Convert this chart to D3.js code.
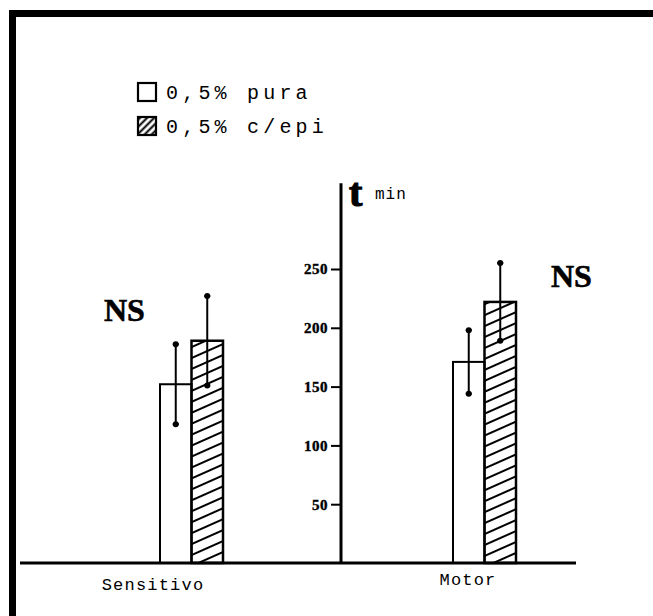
<!DOCTYPE html>
<html>
<head>
<meta charset="utf-8">
<script src="https://cdn.jsdelivr.net/npm/d3@7"></script>
<style>
  body { margin: 0; background: #fff; }
  svg { display: block; }
  .mono { font-family: "Liberation Mono", "DejaVu Sans Mono", monospace; }
  .serif { font-family: "Liberation Serif", "DejaVu Serif", serif; font-weight: bold; }
</style>
</head>
<body>
<svg id="canvas" width="653" height="616"></svg>
<script>
let categories = ["Sensitivo", "Motor"]
let series = ["0,5% pura", "0,5% c/epi"]
let puraValues = [152, 171]
let puraErr = [34, 27]
let epiValues = [189, 222]
let epiErr = [38, 33]
let tickValues = [50, 100, 150, 200, 250]

let svg = d3.select("#canvas")

// pattern for the hatched bars
let defs = svg.append("defs")
defs.append("pattern")
    .attr("id", "hatchBar")
    .attr("patternUnits", "userSpaceOnUse")
    .attr("width", 10).attr("height", 10)
    .attr("patternTransform", "rotate(-24)")
    .append("line")
    .attr("x1", 0).attr("y1", 5).attr("x2", 10).attr("y2", 5)
    .attr("stroke", "#000").attr("stroke-width", 2)
defs.append("pattern")
    .attr("id", "hatchLegend")
    .attr("patternUnits", "userSpaceOnUse")
    .attr("width", 5).attr("height", 5)
    .attr("patternTransform", "rotate(-45)")
    .append("line")
    .attr("x1", 0).attr("y1", 2.5).attr("x2", 5).attr("y2", 2.5)
    .attr("stroke", "#000").attr("stroke-width", 2)

// frame (left and top edge of the scanned page)
svg.append("rect").attr("x", 9).attr("y", 10).attr("width", 7).attr("height", 606).attr("fill", "#000")
svg.append("rect").attr("x", 9).attr("y", 10).attr("width", 644).attr("height", 7).attr("fill", "#000")

let y = d3.scaleLinear().domain([0, 250]).range([563, 269])
let x = d3.scalePoint().domain(categories).range([191.5, 484.5])
let barW = 31.5

// legend
let legend = svg.append("g").attr("transform", "translate(137, 82)")
series.forEach((s, i) => {
    legend.append("rect")
        .attr("x", 1).attr("y", i * 34 + 1)
        .attr("width", 18).attr("height", 18)
        .attr("fill", i === 0 ? "#fff" : "url(#hatchLegend)")
        .attr("stroke", "#000").attr("stroke-width", 2.2)
    legend.append("text")
        .attr("class", "mono")
        .attr("x", 29).attr("y", i * 34 + 17)
        .attr("font-size", 20)
        .attr("letter-spacing", 4.2)
        .text(s)
})

// bars
let groups = svg.selectAll(".group")
    .data(categories)
    .enter()
    .append("g")
    .attr("class", "group")

groups.append("rect")
    .attr("x", (d) => x(d) - barW)
    .attr("y", (d, i) => y(puraValues[i]))
    .attr("width", barW)
    .attr("height", (d, i) => y(0) - y(puraValues[i]))
    .attr("fill", "#fff").attr("stroke", "#000").attr("stroke-width", 2)

groups.append("rect")
    .attr("x", (d) => x(d))
    .attr("y", (d, i) => y(epiValues[i]))
    .attr("width", barW)
    .attr("height", (d, i) => y(0) - y(epiValues[i]))
    .attr("fill", "url(#hatchBar)").attr("stroke", "#000").attr("stroke-width", 2.5)

// error bars
let drawErr = (cx, v, e) => {
    let g = svg.append("g").attr("stroke", "#000").attr("stroke-width", 2)
    g.append("line").attr("x1", cx).attr("x2", cx).attr("y1", y(v + e)).attr("y2", y(v - e))
    g.append("line").attr("x1", cx - 3).attr("x2", cx + 3).attr("y1", y(v + e)).attr("y2", y(v + e))
    g.append("line").attr("x1", cx - 3).attr("x2", cx + 3).attr("y1", y(v - e)).attr("y2", y(v - e))
    g.append("circle").attr("cx", cx).attr("cy", y(v + e)).attr("r", 2).attr("fill", "#000")
    g.append("circle").attr("cx", cx).attr("cy", y(v - e)).attr("r", 2).attr("fill", "#000")
}
categories.forEach((c, i) => {
    drawErr(x(c) - barW / 2, puraValues[i], puraErr[i])
    drawErr(x(c) + barW / 2, epiValues[i], epiErr[i])
})

// baseline
svg.append("line")
    .attr("x1", 20).attr("x2", 576)
    .attr("y1", y(0)).attr("y2", y(0))
    .attr("stroke", "#000").attr("stroke-width", 3)

// y axis
let axisX = 341
svg.append("line")
    .attr("x1", axisX).attr("x2", axisX)
    .attr("y1", y(0)).attr("y2", y(323))
    .attr("stroke", "#000").attr("stroke-width", 3)

let yAxis = d3.axisLeft(y).tickValues(tickValues).tickSize(10).tickPadding(3)
let axisG = svg.append("g")
    .attr("transform", "translate(" + axisX + ",0)")
    .call(yAxis)
axisG.select(".domain").remove()
axisG.selectAll(".tick line").attr("stroke-width", 2)
axisG.selectAll(".tick text")
    .attr("class", "serif")
    .style("font-size", "15px")
    .attr("letter-spacing", 0.5)
    .attr("stroke", "#000").attr("stroke-width", 0.4)
    .attr("fill", "#000")

svg.append("text").attr("class", "serif")
    .attr("x", axisX + 8).attr("y", 206)
    .attr("font-size", 40)
    .attr("stroke", "#000").attr("stroke-width", 1.2)
    .text("t")
svg.append("text").attr("class", "mono")
    .attr("x", axisX + 34).attr("y", 199)
    .attr("font-size", 16).attr("letter-spacing", 1)
    .text("min")

// NS labels
svg.append("text").attr("class", "serif")
    .attr("x", 104).attr("y", 321)
    .attr("font-size", 32)
    .attr("stroke", "#000").attr("stroke-width", 0.6)
    .text("NS")
svg.append("text").attr("class", "serif")
    .attr("x", 551).attr("y", 287)
    .attr("font-size", 32)
    .attr("stroke", "#000").attr("stroke-width", 0.6)
    .text("NS")

// category labels
let labelX = [153, 468]
let labelY = [590, 585]
categories.forEach((c, i) => {
    svg.append("text").attr("class", "mono")
        .attr("x", labelX[i]).attr("y", labelY[i])
        .attr("text-anchor", "middle")
        .attr("font-size", 17)
        .attr("letter-spacing", 1.2)
        .text(c)
})
</script>
</body>
</html>
